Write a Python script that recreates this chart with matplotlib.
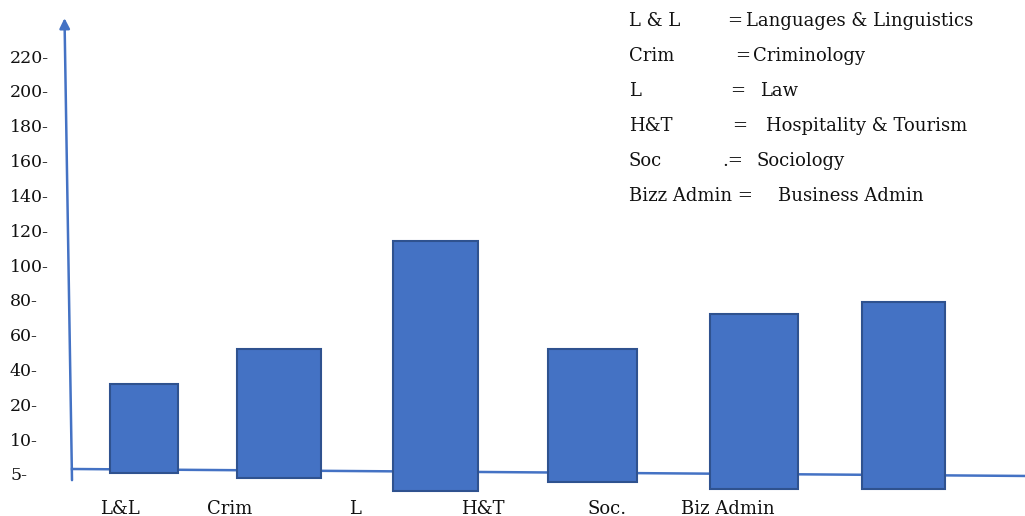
import numpy as np
import matplotlib
matplotlib.use("Agg")
import matplotlib.pyplot as plt

# ---- data -------------------------------------------------------------
categories = ["L&L", "Crim", "L", "H&T", "Soc.", "Biz Admin"]
bar_tops = [33, 53, 115, 53, 73, 80]
bar_bases = [5.4, 4.7, 2.9, 4.1, 3.1, 3.1]

ytick_values = [5, 10, 20, 40, 60, 80, 100, 120, 140, 160, 180, 200, 220]
ytick_labels = [f"{v}-" for v in ytick_values]

key_abbr = ["L & L", "Crim", "L", "H&T", "Soc", "Bizz Admin ="]
key_sep = ["=", "=", "=", "=", ".=", ""]
key_names = ["Languages & Linguistics", "Criminology", "Law",
             "Hospitality & Tourism", "Sociology", "Business Admin"]

# ---- layout -----------------------------------------------------------
W, H = 1025, 516
BLUE = "#4472C4"
EDGE = "#2F528F"
FONT = "DejaVu Serif"

bar_x = [144, 279, 435.5, 592.5, 754, 903.5]
bar_w = [68, 84, 85, 89, 88, 83]
label_x = [120, 230, 355, 483, 607, 728]
key_y = [21, 56, 91, 126, 161, 196]
key_sep_x = [727, 735, 730, 732, 722, None]
key_name_x = [746, 753, 760, 766, 757, 778]

# evenly spaced ticks on an uneven value ladder
anchor_vals = [-5, 0] + ytick_values + [240, 260]
anchor_pos = np.arange(len(anchor_vals)) - 2.0


def fwd(v):
    return np.interp(v, anchor_vals, anchor_pos)


def inv(p):
    return np.interp(p, anchor_pos, anchor_vals)


fig = plt.figure(figsize=(W / 100, H / 100), dpi=100)
ax = fig.add_axes([0, 0, 1, 1])
ax.set_yscale("function", functions=(fwd, inv))
ax.set_xlim(0, W)
ax.set_ylim(inv(-1.15), inv(13.67))
ax.axis("off")

# slanted baseline behind the bars
ax.plot([72, W], [6.0, 5.0], color=BLUE, lw=1.8, zorder=1)

# bars
heights = [t - b for t, b in zip(bar_tops, bar_bases)]
ax.bar(bar_x, heights, width=bar_w, bottom=bar_bases, color=BLUE,
       edgecolor=EDGE, linewidth=1.5, zorder=2)

# vertical axis with arrow head
ax.annotate("", xy=(64.5, 243), xytext=(72, 4.4),
            arrowprops=dict(arrowstyle="-|>", color=BLUE, lw=1.8,
                            mutation_scale=15, shrinkA=0, shrinkB=0),
            zorder=3)

# tick labels
for v, lab in zip(ytick_values, ytick_labels):
    ax.text(10, v, lab, ha="left", va="center", fontsize=12.5,
            family=FONT, color="#111111")


def ftext(x, y, s, **kw):
    fig.text(x / W, 1 - y / H, s, family=FONT, fontsize=13,
             color="#111111", va="center", **kw)


# category labels
for x, lab in zip(label_x, categories):
    ftext(x, 509, lab, ha="center")

# abbreviation key
for i in range(len(key_abbr)):
    ftext(629, key_y[i], key_abbr[i], ha="left")
    if key_sep_x[i] is not None:
        ftext(key_sep_x[i], key_y[i], key_sep[i], ha="left")
    ftext(key_name_x[i], key_y[i], key_names[i], ha="left")

fig.savefig("out.png", dpi=100)
